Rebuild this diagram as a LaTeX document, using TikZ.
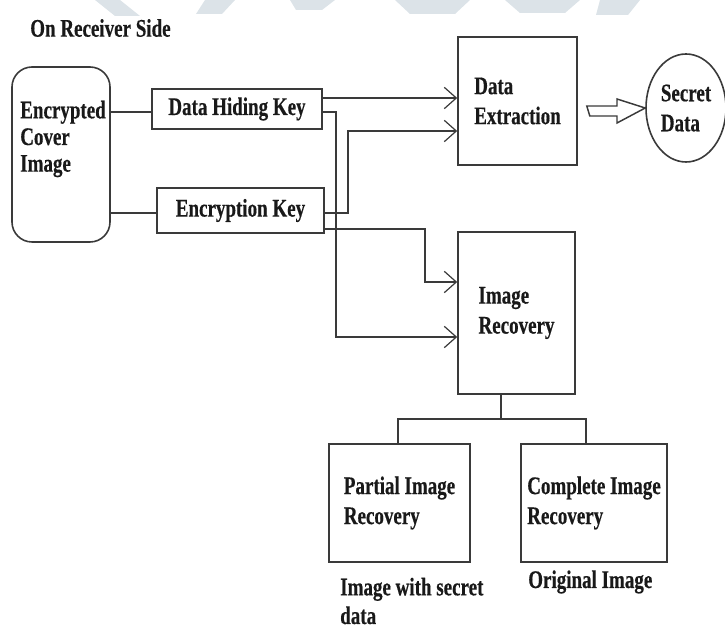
\documentclass[tikz,border=0pt]{standalone}
\usepackage{fontspec}
\setmainfont{Liberation Serif}[FakeStretch=0.75,FakeBold=0.4]
\usetikzlibrary{arrows.meta,shapes.geometric}
\definecolor{inkc}{HTML}{3A3A3A}
\definecolor{wmark}{HTML}{DCE3E8}

\begin{document}
\begin{tikzpicture}[x=0.75pt,y=-0.75pt,
  font=\bfseries\fontsize{19}{22.5}\selectfont,
  box/.style={draw=inkc, line width=1.2pt, rectangle, inner sep=0pt, align=left, text=black!90},
  wire/.style={draw=inkc, line width=1.1pt},
  arr/.style={wire, -{Straight Barb[length=9pt,width=16pt,line width=0.9pt]}},
  txt/.style={inner sep=0pt, align=left, text=black!90}]
\useasboundingbox (0,0) rectangle (725,630);

% faint background marks along the top edge
\fill[wmark] (95,0) -- (120,0) -- (140,16) -- (115,16) -- cycle;
\fill[wmark] (205,0) -- (235,0) -- (222,14) -- (196,14) -- cycle;
\fill[wmark] (290,0) -- (335,0) -- (322,10) -- (296,10) -- cycle;
\fill[wmark] (395,0) -- (470,0) -- (455,14) -- (410,14) -- cycle;
\fill[wmark] (505,0) -- (580,0) -- (565,13) -- (520,13) -- cycle;
\fill[wmark] (600,0) -- (640,0) -- (628,15) -- (596,15) -- cycle;

% title
\node[txt, anchor=west] (title) at (30,28) {On Receiver Side};

% blocks
\node[box, rounded corners=15pt, minimum width=73.5pt, minimum height=131.25pt] (eci) at (61,154.5) {};
\node[txt, anchor=west, font=\bfseries\fontsize{19}{20}\selectfont] (ecit) at (20,139) {Encrypted\\Cover\\Image};

\node[box, minimum width=127.5pt, minimum height=30pt] (dhk) at (237,109) {Data Hiding Key};
\node[box, minimum width=125.25pt, minimum height=33.75pt] (ek) at (240.5,210.5) {Encryption Key};

\node[box, minimum width=89.25pt, minimum height=96pt] (de) at (517.5,101) {Data\\Extraction};
\node[draw=inkc, line width=1.2pt, ellipse, inner sep=0pt, minimum width=60pt, minimum height=81pt, align=left, text=black!90] (sd) at (686,108) {Secret\\Data};

\node[box, minimum width=87.75pt, minimum height=121.5pt] (ir) at (516.5,313) {Image\\Recovery};

\node[box, minimum width=105.75pt, minimum height=88.5pt] (pir) at (399.5,503) {Partial Image\\Recovery};
\node[box, minimum width=109.5pt, minimum height=88.5pt] (cir) at (594,503) {Complete Image\\Recovery};

\node[txt, anchor=west, font=\bfseries\fontsize{19}{21.5}\selectfont] (pirl) at (340,601) {Image with secret\\data};
\node[txt, anchor=west] (cirl) at (528,582) {Original Image};

% cover image to the two keys
\draw[wire] (eci.east |- 0,112) -- (dhk.west |- 0,112);
\draw[wire] (eci.east |- 0,213) -- (ek.west |- 0,213);

% keys to data extraction
\draw[arr] (dhk.east |- 0,98) -- (de.west |- 0,98);
\draw[arr] (ek.east |- 0,213) -- (348,213) -- (348,131) -- (de.west |- 0,131);

% keys to image recovery
\draw[arr] (ek.east |- 0,229) -- (425,229) -- (425,282) -- (ir.west |- 0,282);
\draw[arr] (dhk.east |- 0,112) -- (336,112) -- (336,337) -- (ir.west |- 0,337);

% hollow arrow to the secret data
\draw[draw=inkc, line width=1.1pt, fill=white]
  (de.east |- 0,106) ++(9,0) -- (617,106) -- (617,99) -- (sd.west) -- (617,123)
  -- (617,116) -- ([xshift=9]de.east |- 0,116) -- cycle;

% image recovery splits into two outcomes
\coordinate (j) at (501,419);
\draw[wire] (ir.south -| j) -- (j);
\draw[wire] (pir.north -| 398,0) |- (j) -| (cir.north -| 586,0);
\end{tikzpicture}
\end{document}
